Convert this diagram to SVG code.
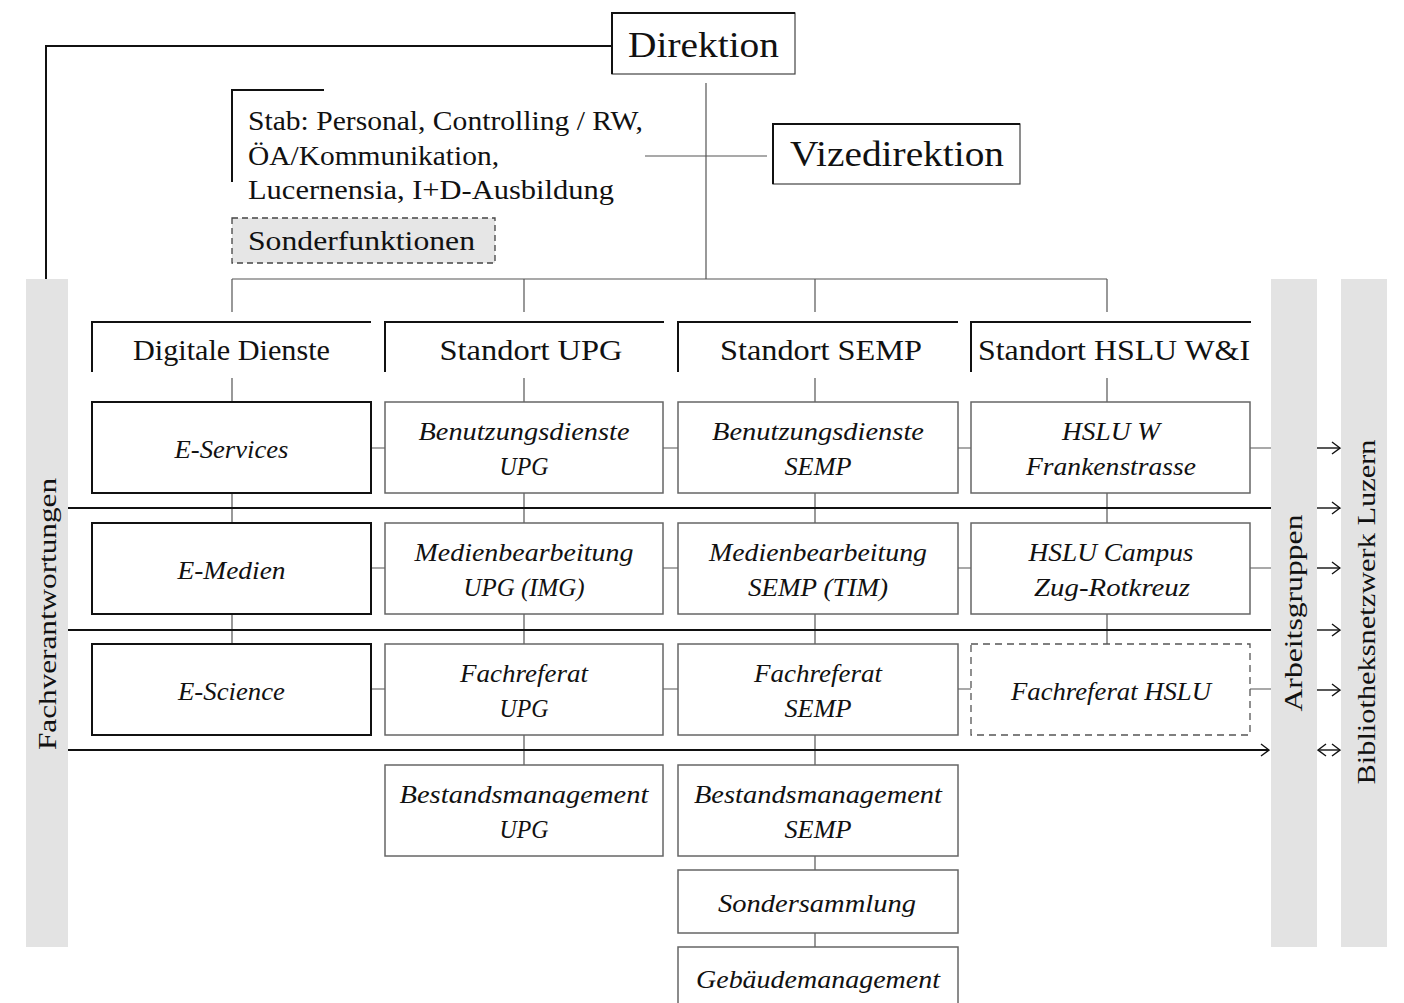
<svg xmlns="http://www.w3.org/2000/svg" width="1404" height="1003" viewBox="0 0 1404 1003">
<defs>
<style>
.t{font-family:"Liberation Serif","DejaVu Serif",serif;fill:#111;}
.h{font-size:30px;text-anchor:middle;}
.big{font-size:35px;}
.s{font-size:27px;}
.i{font-size:26px;font-style:italic;text-anchor:middle;}
.r{font-size:26px;text-anchor:middle;}
.bar{fill:#e3e3e3;stroke:none;}
.bx{fill:#fff;stroke:#666;stroke-width:1.5;}
.bk{fill:#fff;stroke:#111;stroke-width:2;}
.dash{fill:#fff;stroke:#555;stroke-width:1.3;stroke-dasharray:7 5;}
.c{fill:none;stroke:#555;stroke-width:1.2;}
.th{fill:none;stroke:#111;stroke-width:2;}
.br{fill:none;stroke:#111;stroke-width:2;}
.tb{fill:#fff;stroke:#444;stroke-width:1.2;}
</style>
<marker id="ch" viewBox="0 0 10 14" refX="9" refY="7" markerWidth="10" markerHeight="14" markerUnits="userSpaceOnUse" orient="auto-start-reverse">
<path d="M1,1 L9,7 L1,13" fill="none" stroke="#111" stroke-width="1.4"/>
</marker>
</defs>
<rect width="1404" height="1003" fill="#fff"/>

<g id="bars">
<rect class="bar" x="26" y="279" width="42" height="668"/>
<rect class="bar" x="1271" y="279" width="46" height="668"/>
<rect class="bar" x="1341" y="279" width="46" height="668"/>
<text class="t r" transform="translate(56,614) rotate(-90)" textLength="272" lengthAdjust="spacingAndGlyphs">Fachverantwortungen</text>
<text class="t r" transform="translate(1302,613) rotate(-90)" textLength="197" lengthAdjust="spacingAndGlyphs">Arbeitsgruppen</text>
<text class="t r" transform="translate(1375,612) rotate(-90)" textLength="345" lengthAdjust="spacingAndGlyphs">Bibliotheksnetzwerk Luzern</text>
</g>

<g id="connectors">
<path class="th" d="M612 46 H46 V279"/>
<path class="c" d="M706 83 V279 M645 156 H767 M232 279 H1107 M232 279 V312 M524 279 V312 M815 279 V312 M1107 279 V312"/>
<path class="c" d="M232 378 V402 M232 493 V523 M232 614 V644"/>
<path class="c" d="M524 378 V402 M524 493 V523 M524 614 V644 M524 735 V765"/>
<path class="c" d="M815 378 V402 M815 493 V523 M815 614 V644 M815 735 V765 M815 856 V870 M815 933 V947"/>
<path class="c" d="M1107 378 V402 M1107 493 V523 M1107 614 V644"/>
<path class="c" d="M371 448 H385 M663 448 H678 M958 448 H971 M1250 448 H1271"/>
<path class="c" d="M371 568 H385 M663 568 H678 M958 568 H971 M1250 568 H1271"/>
<path class="c" d="M371 689 H385 M663 689 H678 M958 689 H971 M1250 689 H1271"/>
<path class="th" d="M68 508 H1271 M68 630 H1271"/>
<path class="th" d="M68 750 H1269" marker-end="url(#ch)"/>
<g fill="none" stroke="#111" stroke-width="1.4">
<path d="M1317 448 H1340" marker-end="url(#ch)"/>
<path d="M1317 508 H1340" marker-end="url(#ch)"/>
<path d="M1317 568 H1340" marker-end="url(#ch)"/>
<path d="M1317 630 H1340" marker-end="url(#ch)"/>
<path d="M1317 690 H1340" marker-end="url(#ch)"/>
<path d="M1318 750 H1340" marker-start="url(#ch)" marker-end="url(#ch)"/>
</g>
</g>

<g id="direktion">
<rect class="tb" x="612" y="13" width="183" height="61"/>
<path class="br" d="M612 74 V13 H795" stroke-width="2.5"/>
<text class="t big" x="703.5" y="57" text-anchor="middle" textLength="151" lengthAdjust="spacingAndGlyphs">Direktion</text>
</g>

<g id="vizedirektion">
<rect class="tb" x="773" y="124" width="247" height="60"/>
<path class="br" d="M773 184 V124 H1020" stroke-width="2.5"/>
<text class="t big" x="897" y="166" text-anchor="middle" textLength="214" lengthAdjust="spacingAndGlyphs">Vizedirektion</text>
</g>

<g id="stab">
<path class="br" d="M232 182 V90 H324" stroke-width="1.8"/>
<text class="t s" x="248" y="130" textLength="395" lengthAdjust="spacingAndGlyphs">Stab: Personal, Controlling / RW,</text>
<text class="t s" x="248" y="165" textLength="251" lengthAdjust="spacingAndGlyphs">ÖA/Kommunikation,</text>
<text class="t s" x="248" y="199" textLength="366" lengthAdjust="spacingAndGlyphs">Lucernensia, I+D-Ausbildung</text>
</g>

<g id="sonderfunktionen">
<rect x="232" y="218" width="263" height="45" fill="#e6e6e6" stroke="#444" stroke-width="1.3" stroke-dasharray="6 4"/>
<text class="t s" x="248" y="250" textLength="227" lengthAdjust="spacingAndGlyphs">Sonderfunktionen</text>
</g>

<g id="h-digitale">
<path class="br" d="M92 372 V322 H371"/>
<text class="t h" x="231.5" y="360" textLength="197" lengthAdjust="spacingAndGlyphs">Digitale Dienste</text>
</g>
<g id="h-upg">
<path class="br" d="M385 372 V322 H664"/>
<text class="t h" x="531" y="360" textLength="183" lengthAdjust="spacingAndGlyphs">Standort UPG</text>
</g>
<g id="h-semp">
<path class="br" d="M678 372 V322 H958"/>
<text class="t h" x="821" y="360" textLength="202" lengthAdjust="spacingAndGlyphs">Standort SEMP</text>
</g>
<g id="h-hslu">
<path class="br" d="M971 372 V322 H1251"/>
<text class="t h" x="1114" y="360" textLength="272" lengthAdjust="spacingAndGlyphs">Standort HSLU W&amp;I</text>
</g>

<g id="e-services">
<rect class="bk" x="92" y="402" width="279" height="91"/>
<text class="t i" x="231.5" y="458" textLength="114" lengthAdjust="spacingAndGlyphs">E-Services</text>
</g>
<g id="e-medien">
<rect class="bk" x="92" y="523" width="279" height="91"/>
<text class="t i" x="231.5" y="579" textLength="108" lengthAdjust="spacingAndGlyphs">E-Medien</text>
</g>
<g id="e-science">
<rect class="bk" x="92" y="644" width="279" height="91"/>
<text class="t i" x="231.5" y="700" textLength="107" lengthAdjust="spacingAndGlyphs">E-Science</text>
</g>

<g id="benutzung-upg">
<rect class="bx" x="385" y="402" width="278" height="91"/>
<text class="t i" x="524" y="440" textLength="211" lengthAdjust="spacingAndGlyphs">Benutzungsdienste</text>
<text class="t i" x="524" y="475" textLength="49" lengthAdjust="spacingAndGlyphs">UPG</text>
</g>
<g id="medien-upg">
<rect class="bx" x="385" y="523" width="278" height="91"/>
<text class="t i" x="524" y="561" textLength="219" lengthAdjust="spacingAndGlyphs">Medienbearbeitung</text>
<text class="t i" x="524" y="596" textLength="121" lengthAdjust="spacingAndGlyphs">UPG (IMG)</text>
</g>
<g id="fach-upg">
<rect class="bx" x="385" y="644" width="278" height="91"/>
<text class="t i" x="524" y="682" textLength="128" lengthAdjust="spacingAndGlyphs">Fachreferat</text>
<text class="t i" x="524" y="717" textLength="49" lengthAdjust="spacingAndGlyphs">UPG</text>
</g>
<g id="bestand-upg">
<rect class="bx" x="385" y="765" width="278" height="91"/>
<text class="t i" x="524" y="803" textLength="249" lengthAdjust="spacingAndGlyphs">Bestandsmanagement</text>
<text class="t i" x="524" y="838" textLength="49" lengthAdjust="spacingAndGlyphs">UPG</text>
</g>

<g id="benutzung-semp">
<rect class="bx" x="678" y="402" width="280" height="91"/>
<text class="t i" x="818" y="440" textLength="212" lengthAdjust="spacingAndGlyphs">Benutzungsdienste</text>
<text class="t i" x="818" y="475" textLength="67" lengthAdjust="spacingAndGlyphs">SEMP</text>
</g>
<g id="medien-semp">
<rect class="bx" x="678" y="523" width="280" height="91"/>
<text class="t i" x="818" y="561" textLength="218" lengthAdjust="spacingAndGlyphs">Medienbearbeitung</text>
<text class="t i" x="818" y="596" textLength="140" lengthAdjust="spacingAndGlyphs">SEMP (TIM)</text>
</g>
<g id="fach-semp">
<rect class="bx" x="678" y="644" width="280" height="91"/>
<text class="t i" x="818" y="682" textLength="128" lengthAdjust="spacingAndGlyphs">Fachreferat</text>
<text class="t i" x="818" y="717" textLength="67" lengthAdjust="spacingAndGlyphs">SEMP</text>
</g>
<g id="bestand-semp">
<rect class="bx" x="678" y="765" width="280" height="91"/>
<text class="t i" x="818" y="803" textLength="248" lengthAdjust="spacingAndGlyphs">Bestandsmanagement</text>
<text class="t i" x="818" y="838" textLength="67" lengthAdjust="spacingAndGlyphs">SEMP</text>
</g>
<g id="sondersammlung">
<rect class="bx" x="678" y="870" width="280" height="63"/>
<text class="t i" x="817" y="912" textLength="198" lengthAdjust="spacingAndGlyphs">Sondersammlung</text>
</g>
<g id="gebaeude">
<rect class="bx" x="678" y="947" width="280" height="70"/>
<text class="t i" x="818" y="988" textLength="244" lengthAdjust="spacingAndGlyphs">Gebäudemanagement</text>
</g>

<g id="hslu-w">
<rect class="bx" x="971" y="402" width="279" height="91"/>
<text class="t i" x="1111" y="440" textLength="98" lengthAdjust="spacingAndGlyphs">HSLU W</text>
<text class="t i" x="1111" y="475" textLength="170" lengthAdjust="spacingAndGlyphs">Frankenstrasse</text>
</g>
<g id="hslu-campus">
<rect class="bx" x="971" y="523" width="279" height="91"/>
<text class="t i" x="1111" y="561" textLength="165" lengthAdjust="spacingAndGlyphs">HSLU Campus</text>
<text class="t i" x="1112" y="596" textLength="156" lengthAdjust="spacingAndGlyphs">Zug-Rotkreuz</text>
</g>
<g id="fach-hslu">
<rect class="dash" x="971" y="644" width="279" height="91"/>
<text class="t i" x="1111" y="700" textLength="200" lengthAdjust="spacingAndGlyphs">Fachreferat HSLU</text>
</g>
</svg>
